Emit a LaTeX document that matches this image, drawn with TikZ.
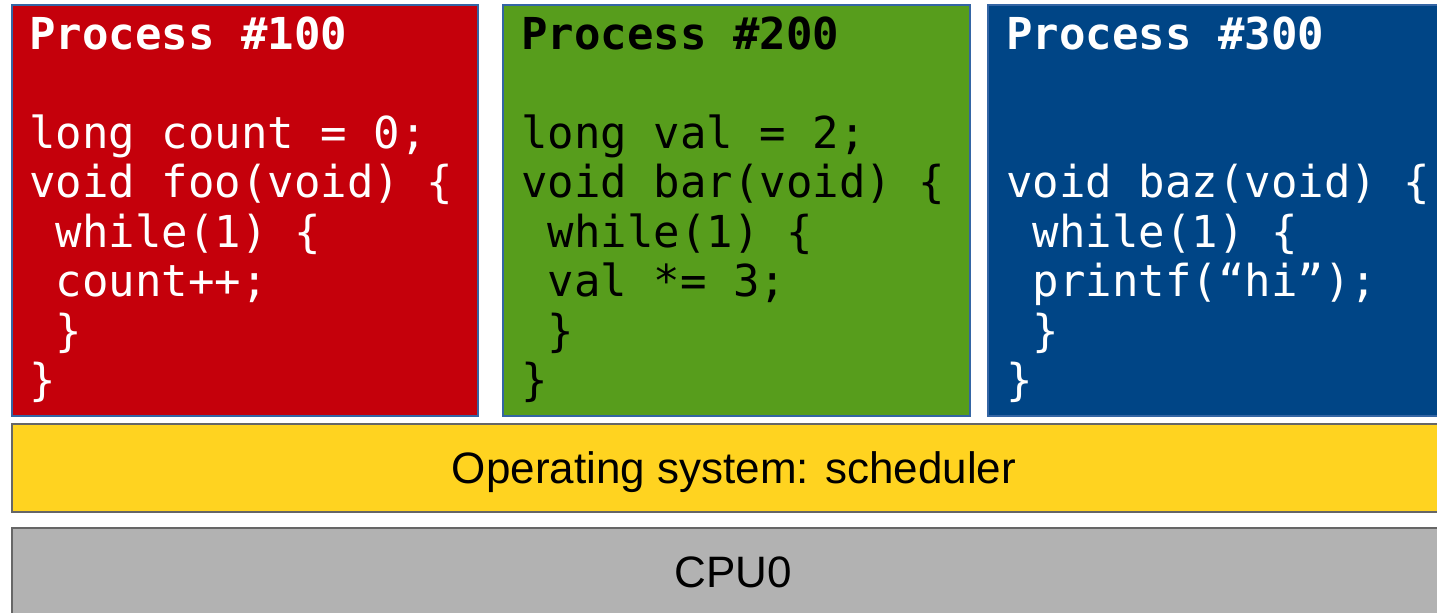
\documentclass[tikz,border=0pt]{standalone}
\usepackage{fontspec}
\setmainfont{Liberation Sans}
\newfontfamily\codefont{DejaVu Sans Mono}
\usetikzlibrary{positioning}

\definecolor{procred}{HTML}{C5000B}
\definecolor{procgreen}{HTML}{579D1C}
\definecolor{procblue}{HTML}{004586}
\definecolor{osyellow}{HTML}{FFD320}
\definecolor{cpugray}{HTML}{B2B2B2}
\definecolor{boxline}{HTML}{3465A4}

\begin{document}
\begin{tikzpicture}[x=0.5pt,y=-0.5pt,
  procbox/.style={draw=boxline,line width=0.6pt},
  layerbox/.style={draw=black!60,line width=1.2pt},
  codeline/.style={anchor=base west,inner sep=0pt,font=\codefont\fontsize{22}{26}\selectfont},
  titleline/.style={codeline,font=\codefont\bfseries\fontsize{22}{26}\selectfont},
  layertext/.style={anchor=base,inner sep=0pt,font=\fontsize{22}{26}\selectfont}]
\useasboundingbox (0,0) rectangle (1437,612);
\clip (0,0) rectangle (1437,612);
% process boxes
\draw [procbox,fill=procred] (12,5) rectangle (478,416);
\draw [procbox,fill=procgreen] (503,5) rectangle (970,416);
\draw [procbox,fill=procblue] (988,5) rectangle (1460,416);
% process #100
\node [titleline,text=white] (title100) at (29,49) {Process \#100};
\foreach \ln [count=\k from 2] in {long count = 0;, void foo(void) \{, \ while(1) \{, \ count++;, \ \}, \}}
  \node [codeline,text=white] (code100-\k) at (29,{49+49.5*\k}) {\ln};
% process #200
\node [titleline,text=black] (title200) at (521,49) {Process \#200};
\foreach \ln [count=\k from 2] in {long val = 2;, void bar(void) \{, \ while(1) \{, \ val *= 3;, \ \}, \}}
  \node [codeline,text=black] (code200-\k) at (521,{49+49.5*\k}) {\ln};
% process #300
\node [titleline,text=white] (title300) at (1006,49) {Process \#300};
\foreach \ln [count=\k from 3] in {void baz(void) \{, \ while(1) \{, \ printf(“hi”);, \ \}, \}}
  \node [codeline,text=white] (code300-\k) at (1006,{49+49.5*\k}) {\ln};
% layers
\draw [layerbox,fill=osyellow] (12,424) rectangle (1460,512);
\node [layertext] (sched) at (734,483) {Operating system: scheduler};
\draw [layerbox,fill=cpugray] (12,528) rectangle (1460,616);
\node [layertext] (cpu) at (733,587) {CPU0};
\end{tikzpicture}
\end{document}
